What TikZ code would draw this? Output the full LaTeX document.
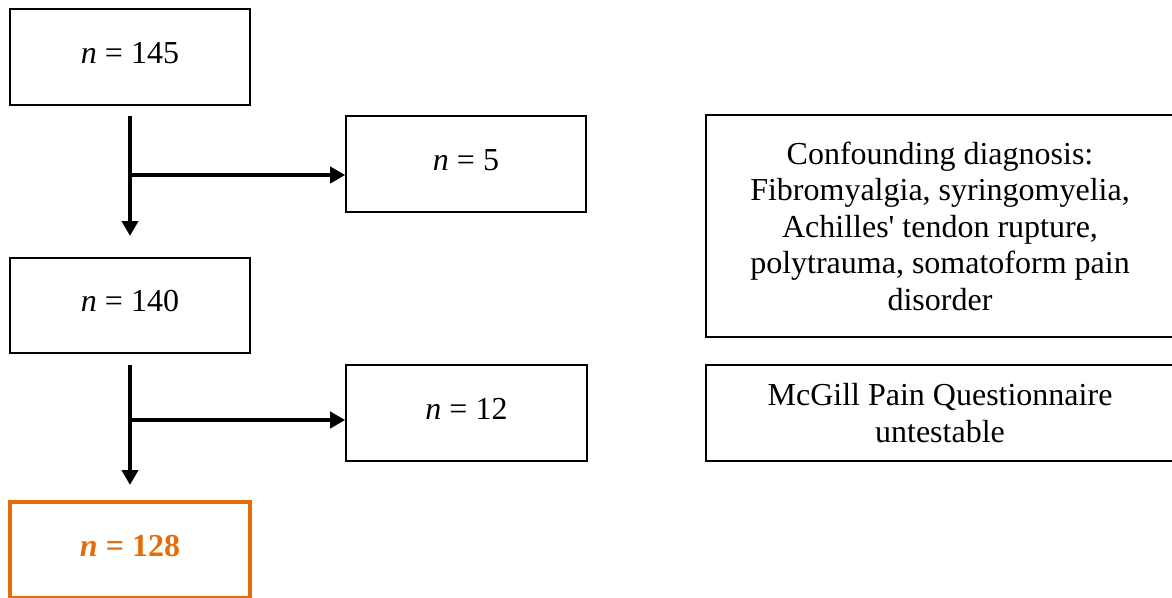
\documentclass[tikz,border=0pt]{standalone}
\usepackage{fontspec}
\setmainfont{Liberation Serif}
\usetikzlibrary{arrows.meta}
\definecolor{boxorange}{RGB}{228,108,10}
\begin{document}
\begin{tikzpicture}[x=1pt,y=-1pt,
  txt/.style={font=\fontsize{32}{36.5}\selectfont},
  nbox/.style={draw=black,line width=1.6pt,minimum width=240pt,minimum height=96pt,inner sep=0pt,txt,text height=22pt,text depth=10pt},
  wbox/.style={draw=black,line width=1.6pt,minimum width=468pt,inner sep=0pt,txt,align=center},
  flow/.style={line width=4pt,-{Triangle[length=15pt,width=16pt]}}
]
\useasboundingbox (0,0) rectangle (1172,597);

\node[nbox] (b145) at (130,57) {\textit{n} = 145};
\node[nbox] (b5) at (466,164) {\textit{n} = 5};
\node[nbox,minimum height=95pt] (b140) at (130,305.5) {\textit{n} = 140};
\node[nbox,minimum width=241pt] (b12) at (466.5,413) {\textit{n} = 12};
\node[nbox,draw=boxorange,line width=4pt,text=boxorange] (b128) at (130,550) {\textbf{\textit{n} = 128}};

\node[wbox,minimum height=222pt] (conf) at (940,226) {Confounding diagnosis:\\Fibromyalgia, syringomyelia,\\Achilles\textquotesingle{} tendon rupture,\\polytrauma, somatoform pain\\disorder};
\node[wbox,minimum height=96pt] (mcgill) at (940,413) {McGill Pain Questionnaire\\untestable};

\coordinate (s1) at (130,116);
\coordinate (e1) at (130,236);
\coordinate (j1) at (130,175);
\coordinate (s2) at (130,365);
\coordinate (e2) at (130,485);
\coordinate (j2) at (130,420);

\draw[flow] (s1) -- (e1);
\draw[flow] ([xshift=-2pt]j1) -- (j1 -| b5.west);
\draw[flow] (s2) -- (e2);
\draw[flow] ([xshift=-2pt]j2) -- (j2 -| b12.west);
\end{tikzpicture}
\end{document}
